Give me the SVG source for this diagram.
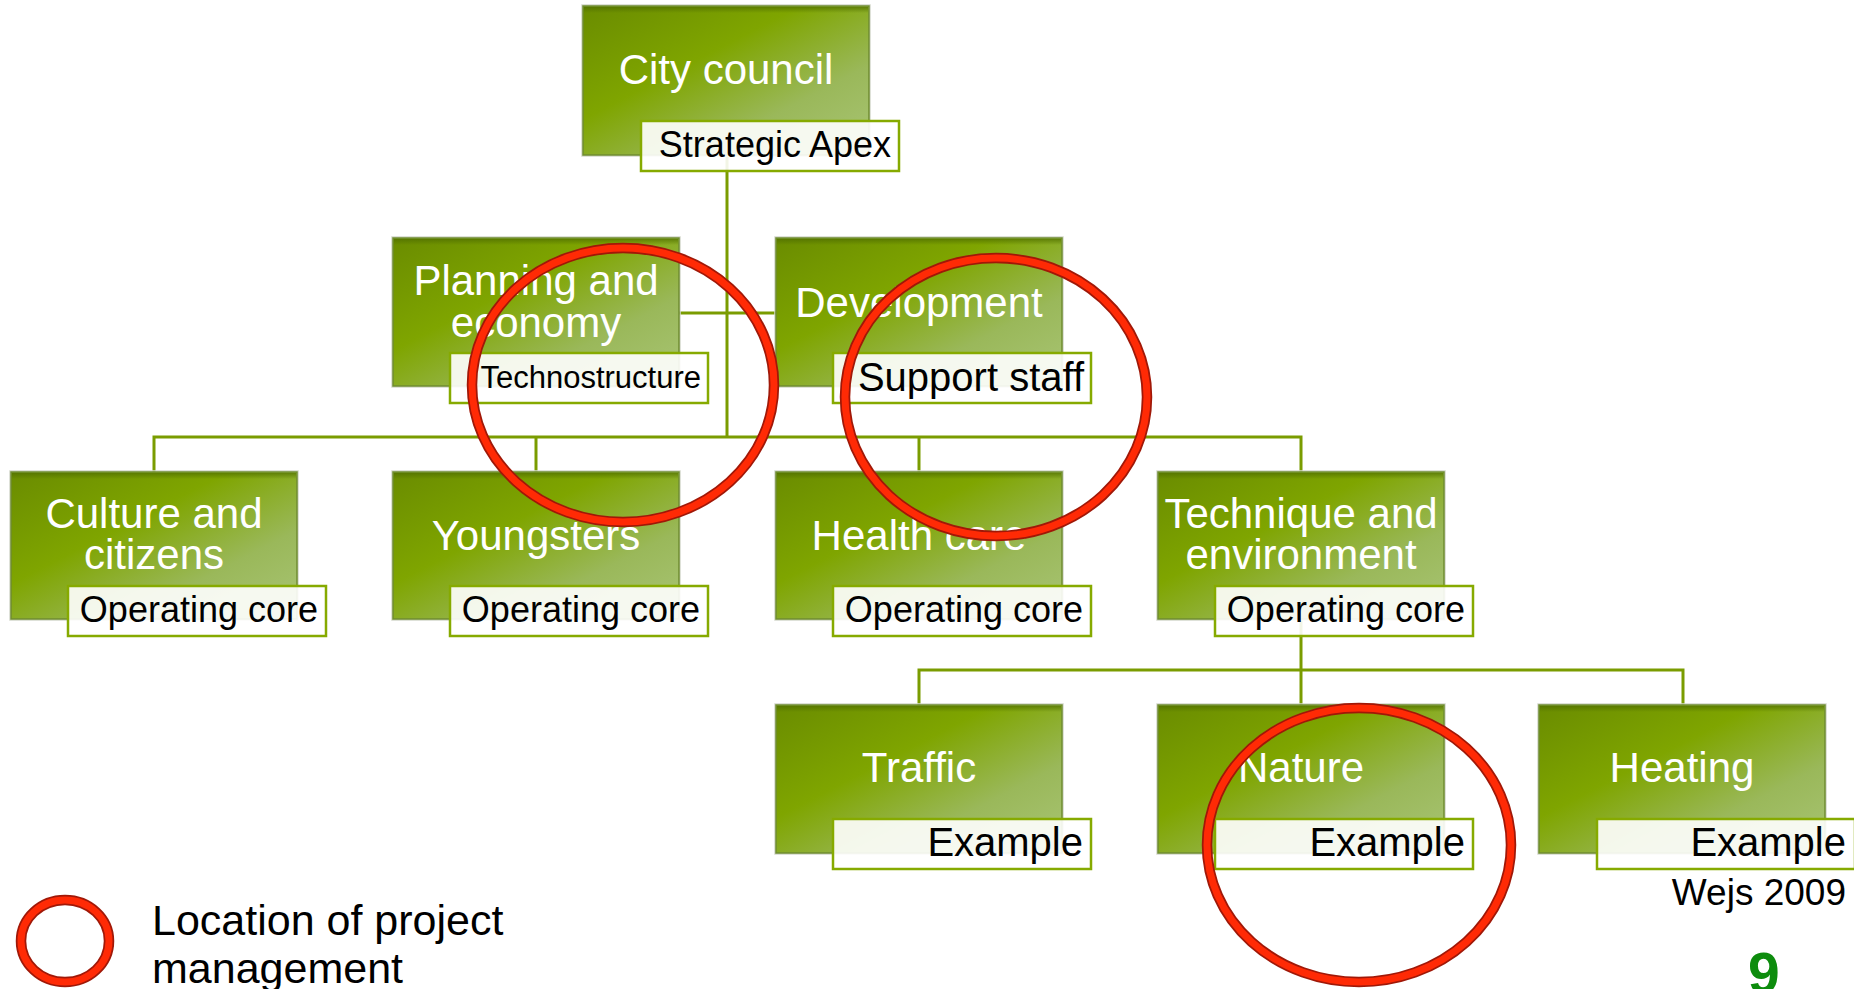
<svg xmlns="http://www.w3.org/2000/svg" width="1854" height="989" viewBox="0 0 1854 989">
<defs>
<linearGradient id="boxg" x1="0" y1="0" x2="1" y2="1">
<stop offset="0" stop-color="#6a8c00"/>
<stop offset="0.38" stop-color="#7fa500"/>
<stop offset="0.7" stop-color="#9ab85a"/>
<stop offset="1" stop-color="#a9c575"/>
</linearGradient>
<linearGradient id="topg" x1="0" y1="0" x2="0" y2="1">
<stop offset="0" stop-color="#4f6e00" stop-opacity="0.7"/>
<stop offset="1" stop-color="#4f6e00" stop-opacity="0"/>
</linearGradient>
<style>
.conn{fill:none;stroke:#7a9c00;stroke-width:3}
.box{fill:url(#boxg);stroke:#6f8c30;stroke-width:1.5}
.boxout{fill:none;stroke:#d4d8cc;stroke-width:1.5}
.bevel{fill:url(#topg)}
.lbl{fill:#ffffff;fill-opacity:0.9;stroke:#86aa00;stroke-width:2.5}
.t{font-family:"Liberation Sans",Arial,sans-serif;fill:#ffffff;font-size:42px;text-anchor:middle}
.lt{font-family:"Liberation Sans",Arial,sans-serif;fill:#000000;font-size:36px;text-anchor:end}
.ringd{fill:none;stroke:#a01808;stroke-width:10.5}
.ring{fill:none;stroke:#ff2a05;stroke-width:7}
.leg{font-family:"Liberation Sans",Arial,sans-serif;fill:#000000;font-size:43px}
</style>
</defs>
<rect width="1854" height="989" fill="#ffffff"/>

<g id="connectors">
<path class="conn" d="M727,154 V437"/>
<path class="conn" d="M679,313 H776"/>
<path class="conn" d="M154,472 V437 H1301 V472"/>
<path class="conn" d="M536,437 V472"/>
<path class="conn" d="M919,437 V472"/>
<path class="conn" d="M1301,619 V670"/>
<path class="conn" d="M919,705 V670 H1683 V705"/>
<path class="conn" d="M1301,670 V705"/>
</g>

<g id="n-city">
<rect class="boxout" x="582" y="5" width="288" height="151"/>
<rect class="box" x="583" y="6" width="286" height="149"/>
<rect class="bevel" x="584" y="7" width="284" height="6"/>
<text class="t" x="726" y="84">City council</text>
<rect class="lbl" x="641" y="121" width="258" height="50"/>
<text class="lt" x="891" y="157">Strategic Apex</text>
</g>

<g id="n-planning">
<rect class="boxout" x="392" y="237" width="288" height="150"/>
<rect class="box" x="393" y="238" width="286" height="148"/>
<rect class="bevel" x="394" y="239" width="284" height="6"/>
<text class="t" x="536" y="295">Planning and</text>
<text class="t" x="536" y="337">economy</text>
<rect class="lbl" x="450" y="353" width="258" height="50"/>
<text class="lt" x="701" y="388" style="font-size:31px">Technostructure</text>
</g>

<g id="n-development">
<rect class="boxout" x="775" y="237" width="288" height="150"/>
<rect class="box" x="776" y="238" width="286" height="148"/>
<rect class="bevel" x="777" y="239" width="284" height="6"/>
<text class="t" x="919" y="317">Development</text>
<rect class="lbl" x="833" y="353" width="258" height="50"/>
<text class="lt" x="1084" y="391" style="font-size:40px">Support staff</text>
</g>

<g id="n-culture">
<rect class="boxout" x="10" y="471" width="288" height="149"/>
<rect class="box" x="11" y="472" width="286" height="147"/>
<rect class="bevel" x="12" y="473" width="284" height="6"/>
<text class="t" x="154" y="528">Culture and</text>
<text class="t" x="154" y="569">citizens</text>
<rect class="lbl" x="68" y="586" width="258" height="50"/>
<text class="lt" x="318" y="622">Operating core</text>
</g>

<g id="n-youngsters">
<rect class="boxout" x="392" y="471" width="288" height="149"/>
<rect class="box" x="393" y="472" width="286" height="147"/>
<rect class="bevel" x="394" y="473" width="284" height="6"/>
<text class="t" x="536" y="550">Youngsters</text>
<rect class="lbl" x="450" y="586" width="258" height="50"/>
<text class="lt" x="700" y="622">Operating core</text>
</g>

<g id="n-health">
<rect class="boxout" x="775" y="471" width="288" height="149"/>
<rect class="box" x="776" y="472" width="286" height="147"/>
<rect class="bevel" x="777" y="473" width="284" height="6"/>
<text class="t" x="919" y="550">Health care</text>
<rect class="lbl" x="833" y="586" width="258" height="50"/>
<text class="lt" x="1083" y="622">Operating core</text>
</g>

<g id="n-technique">
<rect class="boxout" x="1157" y="471" width="288" height="149"/>
<rect class="box" x="1158" y="472" width="286" height="147"/>
<rect class="bevel" x="1159" y="473" width="284" height="6"/>
<text class="t" x="1301" y="528">Technique and</text>
<text class="t" x="1301" y="569">environment</text>
<rect class="lbl" x="1215" y="586" width="258" height="50"/>
<text class="lt" x="1465" y="622">Operating core</text>
</g>

<g id="n-traffic">
<rect class="boxout" x="775" y="704" width="288" height="150"/>
<rect class="box" x="776" y="705" width="286" height="148"/>
<rect class="bevel" x="777" y="706" width="284" height="6"/>
<text class="t" x="919" y="782">Traffic</text>
<rect class="lbl" x="833" y="819" width="258" height="50"/>
<text class="lt" x="1083" y="856" style="font-size:40px">Example</text>
</g>

<g id="n-nature">
<rect class="boxout" x="1157" y="704" width="288" height="150"/>
<rect class="box" x="1158" y="705" width="286" height="148"/>
<rect class="bevel" x="1159" y="706" width="284" height="6"/>
<text class="t" x="1301" y="782">Nature</text>
<rect class="lbl" x="1215" y="819" width="258" height="50"/>
<text class="lt" x="1465" y="856" style="font-size:40px">Example</text>
</g>

<g id="n-heating">
<rect class="boxout" x="1538" y="704" width="288" height="150"/>
<rect class="box" x="1539" y="705" width="286" height="148"/>
<rect class="bevel" x="1540" y="706" width="284" height="6"/>
<text class="t" x="1682" y="782">Heating</text>
<rect class="lbl" x="1597" y="819" width="258" height="50"/>
<text class="lt" x="1846" y="856" style="font-size:40px">Example</text>
</g>

<g id="rings">
<ellipse class="ringd" cx="623" cy="385" rx="151" ry="137"/>
<ellipse class="ring" cx="623" cy="385" rx="151" ry="137"/>
<ellipse class="ringd" cx="996" cy="397" rx="151" ry="139"/>
<ellipse class="ring" cx="996" cy="397" rx="151" ry="139"/>
<ellipse class="ringd" cx="1359" cy="845" rx="152" ry="137"/>
<ellipse class="ring" cx="1359" cy="845" rx="152" ry="137"/>
</g>

<g id="legend">
<ellipse class="ringd" cx="65" cy="941" rx="44" ry="41"/>
<ellipse class="ring" cx="65" cy="941" rx="44" ry="41"/>
<text class="leg" x="152" y="935">Location of project</text>
<text class="leg" x="152" y="983">management</text>
</g>

<text x="1846" y="905" font-family="'Liberation Sans',Arial,sans-serif" font-size="37" text-anchor="end" fill="#000000">Wejs 2009</text>
<text x="1748" y="993" font-family="'Liberation Sans',Arial,sans-serif" font-size="57" font-weight="bold" fill="#0d8c0d">9</text>
</svg>
